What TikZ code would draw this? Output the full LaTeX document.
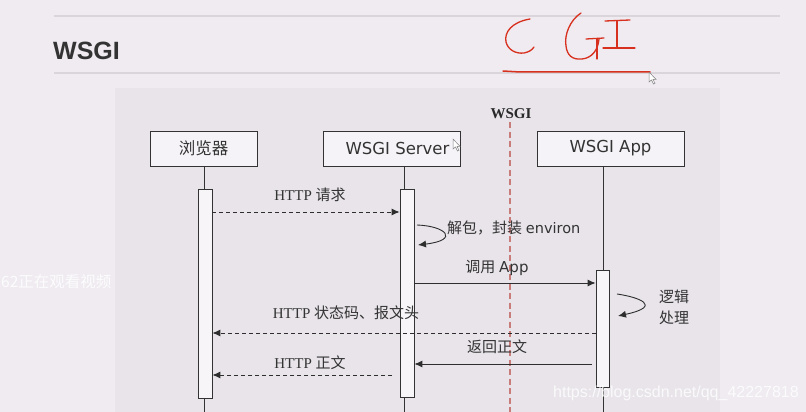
\documentclass[tikz,border=0pt]{standalone}
\usepackage{fontspec}
\setmainfont{Liberation Serif}
\newfontfamily\cjk{Noto Sans CJK SC}
\newfontfamily\dv{DejaVu Sans}
\newfontfamily\lsans{Liberation Sans}
\usetikzlibrary{arrows.meta}
\definecolor{pagebg}{HTML}{EFEBF1}
\definecolor{panelbg}{HTML}{E8E4EA}
\definecolor{rule}{HTML}{D9D5DB}
\definecolor{ink}{HTML}{333333}
\definecolor{hand}{HTML}{D8301E}
\definecolor{wsgired}{HTML}{C97D7B}
\tikzset{
  actor/.style={draw=ink, line width=0.8pt, fill=pagebg!60!white, minimum height=35pt, inner sep=0pt, font=\dv\fontsize{16.5}{19}\selectfont, text=ink},
  bar/.style={draw=ink, line width=0.8pt, fill=pagebg!50!white},
  life/.style={draw=ink, line width=0.8pt},
  msg/.style={draw=ink!90!black, line width=0.9pt, -{Latex[length=8pt,width=7pt]}},
  dmsg/.style={msg, dash pattern=on 4pt off 3pt},
  lbl/.style={text=ink, inner sep=0pt, font=\fontsize{15}{17}\selectfont},
  handline/.style={draw=hand, line width=1.3pt, line cap=round, line join=round},
  cursor/.style={draw=gray, fill=white, line width=0.5pt}
}
\begin{document}
\begin{tikzpicture}[x=1pt,y=-1pt]
\useasboundingbox (0,0) rectangle (806,412);
\clip (0,0) rectangle (806,412);
\fill[pagebg] (0,0) rectangle (806,412);
% panel
\fill[panelbg] (115,88) rectangle (720,412);
% rules
\draw[rule, line width=2pt] (54,16) -- (780,16);
\draw[rule, line width=2pt] (54,73) -- (780,73);
% heading
\node[anchor=west, inner sep=0pt, text=ink, font=\lsans\bfseries\fontsize{25}{28}\selectfont] (head) at (53,51) {WSGI};
% hand-written CGI
\draw[handline] (530,19) .. controls (512,22) and (504,32) .. (506,42) .. controls (508,50) and (516,54) .. (524,53) .. controls (529,52) and (532,50) .. (534,47);
\draw[handline] (581,13) .. controls (570,20) and (564,35) .. (566,46) .. controls (567,55) and (572,60) .. (582,59) .. controls (592,58) and (598,50) .. (599,39);
\draw[handline] (586,39) -- (604,38);
\draw[handline] (597,39) -- (597,59);
\draw[handline] (605,21) -- (630,20);
\draw[handline] (617,21) -- (617,48);
\draw[handline] (603,48) -- (635,48);
\draw[handline, line width=1.5pt] (503,71) -- (520,72) -- (650,72);
% cursor
\draw[cursor] (649,72) -- (649,82) -- (651.5,80) -- (653.5,84) -- (655,83.3) -- (653,79.5) -- (656,79.3) -- cycle;
% WSGI divider
\draw[wsgired, line width=1.6pt, dash pattern=on 6pt off 3.5pt] (510,122) -- (510,412);
\node[text=ink!80!black, inner sep=0pt, font=\bfseries\fontsize{15}{17}\selectfont] (wsgi) at (511,114) {WSGI};
% actors
\node[actor, minimum width=107pt] (browser) at (203.5,148.5) {\cjk 浏览器};
\node[actor, minimum width=137pt] (server) at (391.5,148.5) {\hspace*{12pt}WSGI Server};
\node[actor, minimum width=147pt] (app) at (610.5,148.5) {WSGI App};
\draw[cursor] (453,139) -- (453,149) -- (455.5,147) -- (457.5,151) -- (459,150.3) -- (457,146.5) -- (460,146.3) -- cycle;
% lifelines
\coordinate (bend) at (204,412);
\coordinate (send) at (404,412);
\coordinate (aend) at (603,412);
\draw[life] (browser.south -| bend) -- (bend);
\draw[life] (server.south -| send) -- (send);
\draw[life] (app.south -| aend) -- (aend);
% activation bars
\node[bar, minimum width=14pt, minimum height=209pt, inner sep=0pt, anchor=north] (bbar) at (205,189) {};
\node[bar, minimum width=14pt, minimum height=208pt, inner sep=0pt, anchor=north] (sbar) at (407,189) {};
\node[bar, minimum width=13pt, minimum height=117pt, inner sep=0pt, anchor=north] (abar) at (602.5,270) {};
% messages
\coordinate (m1) at (0,212);
\draw[dmsg] (bbar.east |- m1) -- (sbar.west |- m1);
\node[lbl] (l1) at (310,195) {HTTP {\cjk 请求}};
% self loop server
\coordinate (s1) at (417,225);
\coordinate (s2) at (418,245);
\draw[msg] (s1) .. controls (446,226) and (460,240) .. (s2);
\node[lbl, anchor=west] (l2) at (447,228) {{\cjk 解包，封装} {\dv\fontsize{14.5}{17}\selectfont environ}};
% call app
\coordinate (m3) at (0,283);
\draw[msg] (sbar.east |- m3) -- (abar.west |- m3);
\node[lbl] (l3) at (497,268) {{\cjk 调用} {\dv\fontsize{15}{17}\selectfont App}};
% self loop app
\coordinate (a1) at (617,294);
\coordinate (a2) at (618,316);
\draw[msg] (a1) .. controls (638,297) and (664,306) .. (a2);
\node[lbl, align=left, anchor=west, font=\cjk\fontsize{15}{21}\selectfont] (l4) at (659,307.5) {逻辑\\处理};
% status & headers
\coordinate (m5) at (0,333);
\draw[dmsg] (abar.west |- m5) -- (bbar.east |- m5);
\node[lbl] (l5) at (346,313) {HTTP {\cjk 状态码、报文头}};
% return body
\coordinate (m6) at (0,364);
\coordinate (m6s) at (592,364);
\draw[msg] (m6s) -- (sbar.east |- m6);
\node[lbl, font=\cjk\fontsize{15}{17}\selectfont] (l6) at (497,347) {返回正文};
% http body
\coordinate (m7) at (392,375);
\draw[dmsg] (m7) -- (bbar.east |- m7);
\node[lbl] (l7) at (310,363) {HTTP {\cjk 正文}};
% overlays
\node[anchor=west, inner sep=0pt, text=white, opacity=0.85, font=\cjk\fontsize{15.5}{18}\selectfont] (viewers) at (1,282) {62正在观看视频};
\node[anchor=west, inner sep=0pt, text=white, opacity=0.8, font=\lsans\fontsize{16}{18}\selectfont] (wm) at (553,393) {https://blog.csdn.net/qq\_42227818};
\end{tikzpicture}
\end{document}
